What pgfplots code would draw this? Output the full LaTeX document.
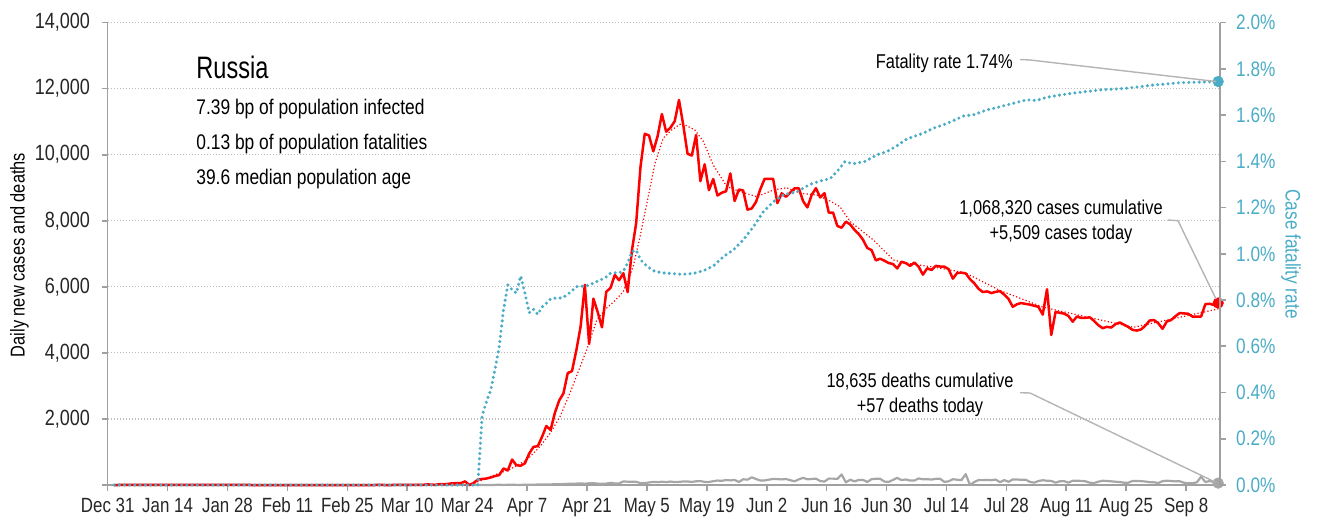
\documentclass[border=0pt]{standalone}
\usepackage{fontspec}
\setmainfont{Liberation Sans}[FakeStretch=0.82]
\newfontfamily\titlefont{Liberation Sans}[FakeStretch=0.76]
\usepackage{pgfplots}
\pgfplotsset{compat=1.18}
\definecolor{cfr}{HTML}{4BACC6}
\definecolor{axgray}{HTML}{A0A0A0}
\definecolor{dgray}{HTML}{A6A6A6}
\definecolor{gridgray}{HTML}{BDBDBD}
\definecolor{anngray}{HTML}{B4B4B4}

\pgfplotstableread{
x y
0 0
31 2
32 0
61 0
62 1
63 0
65 0
66 6
67 0
68 3
69 0
70 3
71 8
72 0
73 17
74 14
75 4
76 30
77 21
78 33
79 52
80 54
81 53
82 110
83 0
84 60
85 163
86 182
87 196
88 228
89 270
90 302
91 501
92 440
93 771
94 601
95 582
96 658
97 954
98 1154
99 1175
100 1459
101 1786
102 1667
103 2186
104 2558
105 2774
106 3388
107 3448
108 4070
109 4785
110 6060
111 4268
112 5642
113 5236
114 4774
115 5849
116 5966
117 6361
118 6198
119 6411
120 5841
121 7099
122 7933
123 9623
124 10633
125 10581
126 10102
127 10559
128 11231
129 10699
130 10817
131 11012
132 11656
133 10899
134 10028
135 9974
136 10598
137 9200
138 9709
139 8926
140 9263
141 8764
142 8849
143 8894
144 9434
145 8599
146 8946
147 8915
148 8338
149 8371
150 8572
151 8952
152 9268
153 9268
154 9268
155 8536
156 8831
157 8726
158 8855
159 8984
160 8985
161 8595
162 8404
163 8779
164 8987
165 8706
166 8835
167 8246
168 8248
169 7843
170 7790
171 7972
172 7889
173 7728
174 7600
175 7425
176 7176
177 7113
178 6800
179 6852
180 6791
181 6719
182 6693
183 6556
184 6760
185 6718
186 6632
187 6736
188 6611
189 6368
190 6562
191 6509
192 6635
193 6615
194 6611
195 6537
196 6248
197 6422
198 6428
199 6406
200 6234
201 6109
202 5940
203 5842
204 5862
205 5811
206 5848
207 5871
208 5765
209 5635
210 5395
211 5475
212 5509
213 5482
214 5462
215 5427
216 5394
217 5159
218 5926
219 4542
220 5241
221 5212
222 5189
223 5118
224 4945
225 5102
226 5057
227 5061
228 5076
229 4969
230 4839
231 4748
232 4790
233 4767
234 4870
235 4921
236 4852
237 4785
238 4696
239 4676
240 4711
241 4829
242 4980
243 4993
244 4897
245 4729
246 4952
247 4995
248 5110
249 5205
250 5195
251 5185
252 5099
253 5100
254 5100
255 5475
256 5488
257 5449
258 5509
}\cases

\pgfplotstableread{
x y
0 0
83.2 0
87.8 250
92.5 475
96.4 757
99.5 1160
101.9 1565
104.2 2070
106.5 2777
108.9 3580
110.4 4090
112.8 5000
115.1 5360
117.0 5580
119.0 5855
121.3 6610
122.9 7520
124.5 8530
126.4 9740
128.3 10500
130.3 10750
132.6 10950
135.7 10750
137.7 10400
140.0 9690
143.2 9034
146.3 8880
150.2 8730
154.1 8933
157.2 9000
160.3 8833
164.2 8782
167.3 8600
169.6 8428
172.0 7975
177.4 7420
182.1 6814
185.2 6714
191.4 6600
198.8 6430
207.0 5890
217.2 5380
238.2 4775
258.0 5330
}\casesavg

\pgfplotstableread{
x y
0 0
84 0
85 1
86 2
87 1
88 0
89 4
90 8
91 2
92 7
93 7
94 4
95 2
96 11
97 9
98 11
99 13
100 18
101 12
102 18
103 24
104 22
105 28
106 36
107 41
108 42
109 48
110 40
111 51
112 57
113 42
114 40
115 42
116 66
117 47
118 47
119 108
120 101
121 96
122 96
123 57
124 58
125 76
126 95
127 86
128 98
129 88
130 104
131 88
132 94
133 107
134 107
135 93
136 113
137 119
138 94
139 91
140 115
141 135
142 127
143 150
144 139
145 153
146 92
147 174
148 161
149 232
150 181
151 138
152 138
153 162
154 182
155 178
156 169
157 181
158 144
159 112
160 171
161 216
162 174
163 181
164 194
165 119
166 104
167 194
168 193
169 182
170 320
171 80
172 161
173 109
174 153
175 154
176 92
177 176
178 188
179 188
180 104
181 93
182 154
183 216
184 147
185 168
186 135
187 134
188 198
189 173
190 175
191 165
192 186
193 188
194 95
195 111
196 175
197 160
198 147
199 330
200 0
201 90
202 150
203 147
204 154
205 146
206 165
207 85
208 150
209 95
210 169
211 165
212 159
213 161
214 95
215 70
216 121
217 144
218 129
219 124
220 70
221 114
222 118
223 70
224 130
225 129
226 123
227 112
228 70
229 60
230 100
231 129
232 121
233 111
234 100
235 90
236 70
237 70
238 123
239 124
240 115
241 106
242 86
243 81
244 60
245 117
246 129
247 122
248 110
249 114
250 70
251 50
252 55
253 80
254 250
255 90
256 120
257 90
258 57
}\deaths

\pgfplotstableread{
x y
0 0
85 0
86 0.30
87 0.36
88 0.41
89 0.50
90 0.60
91 0.76
92 0.865
93 0.845
94 0.83
95 0.904
96 0.83
97 0.745
98 0.76
99 0.738
100 0.77
101 0.786
102 0.805
103 0.808
104 0.808
105 0.812
106 0.825
107 0.84
108 0.858
109 0.858
110 0.862
111 0.865
112 0.873
113 0.882
114 0.89
115 0.90
116 0.916
117 0.918
118 0.918
119 0.925
120 0.96
121 1.009
122 1.016
123 0.975
124 0.955
125 0.94
126 0.927
127 0.922
128 0.918
130 0.915
132.6 0.911
135.4 0.915
137.7 0.927
140 0.947
142.4 0.988
144.7 1.017
147 1.06
149.4 1.117
151.7 1.182
154.1 1.226
156.4 1.255
159.5 1.268
162.6 1.300
165 1.315
167.3 1.325
168.9 1.355
170.8 1.399
172.7 1.389
175.5 1.40
178.2 1.428
180.6 1.442
182.9 1.467
185.2 1.496
189.1 1.522
191.4 1.543
193.8 1.558
196.1 1.576
198.5 1.596
200.8 1.601
203.9 1.622
207 1.636
210.1 1.651
213.3 1.666
215.6 1.663
217.9 1.677
221.1 1.687
224.2 1.695
227.3 1.702
230.4 1.709
233.5 1.712
236.6 1.716
239.8 1.723
242.9 1.730
246 1.735
249.1 1.740
258 1.745
}\cfrdata

\begin{document}
\begin{tikzpicture}
\useasboundingbox (-53.85pt,-20pt) rectangle (604.65pt,242.5pt);
\begin{axis}[
  at={(0,0)}, anchor=south west,
  scale only axis, width=556.2pt, height=231.2pt,
  xmin=-1.5, xmax=258.45, ymin=0, ymax=14000,
  clip=false, scaled y ticks=false,
  axis x line*=bottom, axis y line*=left,
  axis line style={axgray, line width=0.8pt},
  tick style={axgray, line width=0.8pt},
  tick align=outside, major tick length=3pt,
  xtick={-1.5,12.5,26.5,40.5,54.5,68.5,82.5,96.5,110.5,124.5,138.5,152.5,166.5,180.5,194.5,208.5,222.5,236.5,250.5},
  xticklabels={Dec 31,Jan 14,Jan 28,Feb 11,Feb 25,Mar 10,Mar 24,Apr 7,Apr 21,May 5,May 19,Jun 2,Jun 16,Jun 30,Jul 14,Jul 28,Aug 11,Aug 25,Sep 8},
  ytick={0,2000,4000,6000,8000,10000,12000,14000},
  yticklabels={,{2,000},{4,000},{6,000},{8,000},{10,000},{12,000},{14,000}},
  ymajorgrids,
  grid style={gridgray, line width=0.6pt, dash pattern=on 0.6pt off 0.9pt},
  tick label style={font=\fontsize{10.5}{12}\selectfont, text=black!85},
  xticklabel style={font=\fontsize{10.3}{12}\selectfont},
  yticklabel style={font=\fontsize{11}{12}\selectfont, xshift=-2.3pt},
  /pgf/number format/assume math mode=true,
]
\addplot[dgray, line width=1.1pt, line join=round] table {\deaths};
\addplot[red, line width=0.6pt, dash pattern=on 0.6pt off 1.1pt] table {\casesavg};
\addplot[red, line width=1.25pt, line join=round] table {\cases};
\addplot[only marks, mark=*, mark size=2.6pt, dgray] coordinates {(258,57)};
\addplot[only marks, mark=*, mark size=2.6pt, red] coordinates {(258,5509)};
\end{axis}
\begin{axis}[
  at={(0,0)}, anchor=south west,
  scale only axis, width=556.2pt, height=231.2pt,
  xmin=-1.5, xmax=258.45, ymin=0, ymax=2.0,
  clip=false,
  axis x line=none, axis y line*=right,
  axis line style={axgray, line width=0.8pt},
  tick style={axgray, line width=0.8pt},
  tick align=outside, major tick length=3pt,
  ytick={0,0.2,0.4,0.6,0.8,1.0,1.2,1.4,1.6,1.8,2.0},
  yticklabels={0.0\%,0.2\%,0.4\%,0.6\%,0.8\%,1.0\%,1.2\%,1.4\%,1.6\%,1.8\%,2.0\%},
  tick label style={font=\fontsize{10.5}{12}\selectfont, text=cfr, xshift=1.5pt},
  /pgf/number format/assume math mode=true,
]
\addplot[cfr, line width=1.7pt, line cap=round, dash pattern=on 0pt off 2.6pt] table {\cfrdata};
\addplot[only marks, mark=*, mark size=2.6pt, cfr] coordinates {(258,1.745)};
\end{axis}
\begin{scope}[x=0.5pt,y=-0.5pt,shift={(-53.85pt,242.5pt)}]
  \node[anchor=base west, inner sep=0, font=\titlefont\fontsize{15.5}{18}\selectfont] at (196,78.3) {Russia};
  \node[anchor=base west, inner sep=0, font=\fontsize{10.6}{12}\selectfont] at (196,115) {7.39 bp of population infected};
  \node[anchor=base west, inner sep=0, font=\fontsize{10.6}{12}\selectfont] at (196,150) {0.13 bp of population fatalities};
  \node[anchor=base west, inner sep=0, font=\fontsize{10.6}{12}\selectfont] at (196,185) {39.6 median population age};
  \node[anchor=base east, inner sep=0, font=\fontsize{10}{12}\selectfont] at (1013,68.3) {Fatality rate 1.74\%};
  \node[anchor=base, inner sep=0, font=\fontsize{10}{12}\selectfont] at (1061,215) {1,068,320 cases cumulative};
  \node[anchor=base, inner sep=0, font=\fontsize{10}{12}\selectfont] at (1061,240) {+5,509 cases today};
  \node[anchor=base, inner sep=0, font=\fontsize{10}{12}\selectfont] at (920,387.7) {18,635 deaths cumulative};
  \node[anchor=base, inner sep=0, font=\fontsize{10}{12}\selectfont] at (920,412.7) {+57 deaths today};
  \draw[anngray, line width=0.7pt] (1020,59.5) -- (1030,60) -- (1216,81.5);
  \draw[anngray, line width=0.7pt] (1168,220) -- (1178,220.7) -- (1216,299);
  \draw[anngray, line width=0.7pt] (1020,392.7) -- (1030,393) -- (1215,482);
  \node[rotate=90, inner sep=0, font=\fontsize{10}{12}\selectfont] at (19.5,255) {Daily new cases and deaths};
  \node[rotate=-90, inner sep=0, font=\fontsize{10.5}{12}\selectfont, text=cfr] at (1291,254) {Case fatality rate};
\end{scope}
\end{tikzpicture}
\end{document}
